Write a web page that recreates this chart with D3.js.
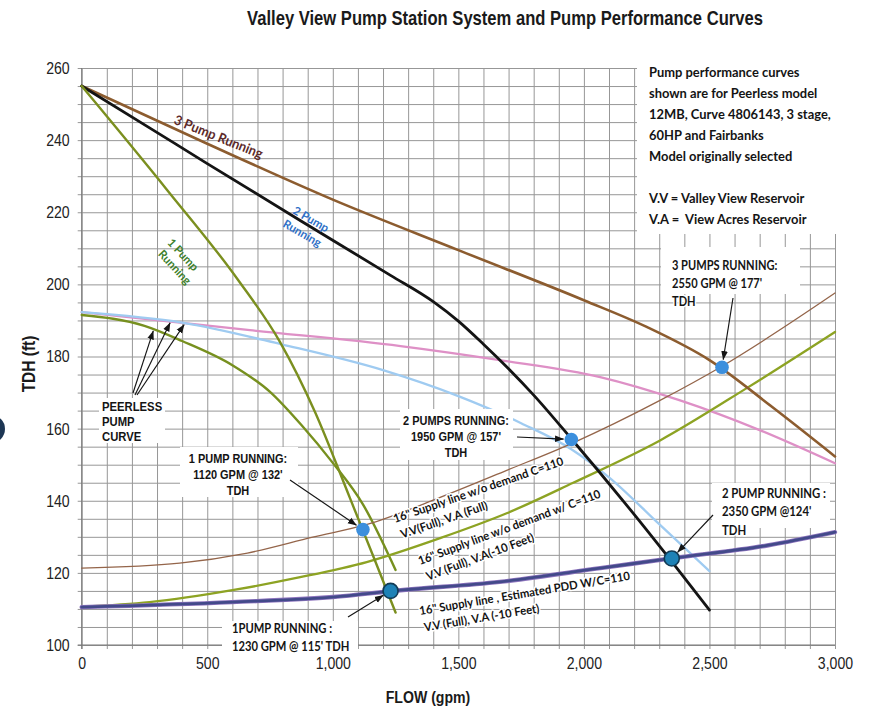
<!DOCTYPE html>
<html>
<head>
<meta charset="utf-8">
<script src="https://cdn.jsdelivr.net/npm/d3@7"></script>
<style>
  html, body { margin: 0; padding: 0; background: #fff; }
  svg { display: block; }
  .narrow { font-family: "Liberation Sans", Arial, sans-serif; }
  .cal { font-family: Lato, "Open Sans", sans-serif; font-weight: 700; }
  text { white-space: pre; }
</style>
</head>
<body>
<svg id="chart" width="869" height="707"></svg>
<script>
// ---- axis ticks -------------------------------------------------------
const flowTicks = [0, 500, 1000, 1500, 2000, 2500, 3000];
const tdhTicks = [100, 120, 140, 160, 180, 200, 220, 240, 260];

// ---- pump curves: [flow gpm, TDH ft] ----------------------------------
const threePumpRunning = [[0,255],[500,239.0],[1000,223.5],[1500,209.5],[2000,195.6],[2250,188.2],[2500,179.0],[2750,166.0],[3000,152.3]];
const twoPumpRunning = [[0,255],[275,243.2],[500,233.5],[875,217.5],[1230,202.5],[1400,195.2],[1500,189.8],[1600,183.4],[1700,176.6],[1800,169.3],[1950,157.2],[2170,138.8],[2340,124.0],[2500,109.7]];
const onePumpRunning = [[0,255],[340,226.2],[620,201.5],[790,184.0],[930,164.5],[1068,140.8],[1160,124.8],[1250,109.0]];

// ---- Peerless pump curves --------------------------------------------
const peerlessThreePump = [[0,192.3],[670,187.3],[1270,182.9],[1665,179.0],[2065,174.3],[2380,167.9],[2700,159.6],[3000,150.4]];
const peerlessTwoPump = [[0,192.3],[400,189.4],[800,183.3],[1200,176.2],[1500,169.0],[1750,161.5],[1950,154.3],[2100,146.5],[2300,133.5],[2500,120.5]];
const peerlessOnePump = [[0,191.5],[250,188.5],[400,184.3],[600,177.6],[750,170.2],[875,161.0],[1000,150.5],[1120,139.0],[1250,120.8]];

// ---- 16" supply line system curves ------------------------------------
const systemFull = [[0,121.3],[390,122.7],[660,125.5],[920,129.9],[1140,133.5],[1430,141.0],[1695,148.5],[1955,156.0],[2305,167.9],[2545,177.1],[3000,197.6]];
const systemMinus10 = [[0,110.6],[270,111.9],[600,115.2],[870,118.8],[1135,123.0],[1430,129.7],[1695,136.6],[1955,144.9],[2305,156.8],[2650,171.3],[3000,186.8]];
const systemPDD = [[0,110.5],[600,111.9],[1000,113.3],[1270,115.2],[1665,117.5],[2065,121.3],[2355,124.1],[2730,127.6],[3000,131.3]];

// ---- operating points --------------------------------------------------
const operatingFlow = [1120, 1230, 1950, 2350, 2550];
const operatingTdh = [132, 115, 157, 124, 177];
const operatingSystem = ["full", "pdd", "full", "pdd", "full"];

// ---- text ----------------------------------------------------------------
const titleText = "Valley View Pump Station System and Pump Performance Curves";
const notesText = ["Pump performance curves", "shown are for Peerless model", "12MB, Curve 4806143, 3 stage,", "60HP and Fairbanks", "Model originally selected", "", "V.V = Valley View Reservoir", "V.A =  View Acres Reservoir"];
const pointLabels = [
  ["1 PUMP RUNNING:", "1120 GPM @ 132'", "TDH"],
  ["1PUMP RUNNING :", "1230 GPM @ 115' TDH"],
  ["2 PUMPS RUNNING:", "1950 GPM @ 157'", "TDH"],
  ["2 PUMP RUNNING :", "2350 GPM @124'", "TDH"],
  ["3 PUMPS RUNNING:", "2550 GPM @ 177'", "TDH"]
];
const peerlessLabel = ["PEERLESS", "PUMP", "CURVE"];
const systemLabels = [
  ["16\" Supply line w/o demand C=110", "V.V(Full), V.A (Full)"],
  ["16\" Supply line w/o demand w/ C=110", "V.V (Full), V.A(-10 Feet)"],
  ["16\" Supply line , Estimated PDD W/C=110", "V.V (Full), V.A (-10 Feet)"]
];
const pumpLabels = [["3 Pump Running"], ["2 Pump", "Running"], ["1 Pump", "Running"]];

// ======================================================================
const W = 869, H = 707;
const NARROW = 0.83;   // horizontal squeeze for the condensed sans labels
const svg = d3.select("#chart");
const x = d3.scaleLinear().domain([0, 3000]).range([81.7, 835]);
const y = d3.scaleLinear().domain([100, 260]).range([645, 68]);
const L = x(0), R = x(3000), T = y(260), B = y(100);

svg.append("rect").attr("width", W).attr("height", H).attr("fill", "#fff");

const defs = svg.append("defs");
defs.append("marker").attr("id", "arrowHead")
  .attr("viewBox", "0 0 10 10").attr("refX", 9.5).attr("refY", 5)
  .attr("markerWidth", 9).attr("markerHeight", 9)
  .attr("markerUnits", "userSpaceOnUse").attr("orient", "auto")
  .append("path").attr("d", "M0,1.3L10,5L0,8.7Z").attr("fill", "#151515");

// slide edge ornament at the left border
svg.append("circle").attr("cx", -9).attr("cy", 429).attr("r", 14).attr("fill", "#1d3654");

// ---- grid --------------------------------------------------------------
const grid = svg.append("g");
grid.append("g").attr("transform", `translate(0,${B + 4})`)
  .call(d3.axisBottom(x).tickValues(d3.range(0, 3001, 100)).tickSize(-(B - T + 4)).tickFormat(""))
  .call(g => g.select(".domain").remove());
grid.append("g").attr("transform", `translate(${L - 4},0)`)
  .call(d3.axisLeft(y).tickValues(d3.range(100, 261, 5)).tickSize(-(R - L + 4)).tickFormat(""))
  .call(g => g.select(".domain").remove());
grid.selectAll("line").attr("stroke", "#979797").attr("stroke-width", 1);

svg.append("line").attr("x1", L).attr("x2", L).attr("y1", T).attr("y2", B + 4).attr("stroke", "#777");
svg.append("line").attr("x1", L - 4).attr("x2", R).attr("y1", B).attr("y2", B).attr("stroke", "#777");

// ---- tick labels -------------------------------------------------------
svg.append("g").attr("transform", `translate(${L},0)`)
  .call(d3.axisLeft(y).tickValues(tdhTicks).tickSize(0).tickPadding(12))
  .call(g => g.select(".domain").remove())
  .selectAll("text").attr("class", "narrow").attr("font-size", 17).attr("fill", "#222")
  .attr("x", -12 / NARROW).attr("transform", `scale(${NARROW},1)`);
svg.append("g").attr("transform", `translate(0,${B})`)
  .call(d3.axisBottom(x).tickValues(flowTicks).tickFormat(d3.format(",")).tickSize(0).tickPadding(12))
  .call(g => g.select(".domain").remove())
  .selectAll("text").attr("class", "narrow").attr("font-size", 17).attr("fill", "#222")
  .attr("transform", `scale(${NARROW},1)`);

// ---- text helper ---------------------------------------------------------
const halo = sel => sel.attr("stroke", "#fff").attr("stroke-width", 3).attr("paint-order", "stroke").attr("stroke-linejoin", "round");
function block(lines, o) {
  const tf = `translate(${o.tx},${o.ty})` + (o.rot ? ` rotate(${o.rot})` : "") + ` scale(${o.sx || 1},1)`;
  const t = svg.append("text").attr("class", o.cls).attr("transform", tf)
    .attr("font-size", o.size).attr("font-weight", o.weight || 700)
    .attr("fill", o.color || "#141414").attr("text-anchor", o.anchor || "start");
  lines.forEach((s, i) => t.append("tspan").attr("x", o.indent ? o.indent[i] : 0).attr("y", i * (o.step || 0)).text(s));
  if (o.halo) halo(t);
  return t;
}

// ---- chart title and axis titles ----------------------------------------
block([titleText], { tx: 505, ty: 25, sx: NARROW, cls: "narrow", size: 20, anchor: "middle", color: "#1a1a1a" });
block(["FLOW (gpm)"], { tx: 428, ty: 703, sx: NARROW, cls: "narrow", size: 17, anchor: "middle", color: "#1a1a1a" });
block(["TDH (ft)"], { tx: 35, ty: 364, rot: -90, sx: 0.86, cls: "narrow", size: 18, anchor: "middle", color: "#1a1a1a" });

// ---- curves --------------------------------------------------------------
const line = d3.line().x(d => x(d[0])).y(d => y(d[1])).curve(d3.curveMonotoneX);
const curves = svg.append("g").attr("fill", "none").attr("stroke-linecap", "round");
const drawCurve = (data, color, width) =>
  curves.append("path").attr("d", line(data)).attr("stroke", color).attr("stroke-width", width);

drawCurve(peerlessThreePump, "#de90c6", 2.3);
drawCurve(peerlessTwoPump, "#9fcbf1", 2.3);
drawCurve(peerlessOnePump, "#77901f", 2.4);
drawCurve(systemFull, "#94654a", 1.3);
drawCurve(systemMinus10, "#8da323", 2.3);
drawCurve(systemPDD, "#8d74bd", 4.4);
drawCurve(systemPDD, "#434a8a", 2.8);
drawCurve(threePumpRunning, "#8c5c2f", 2.6);
drawCurve(twoPumpRunning, "#141414", 2.8);
drawCurve(onePumpRunning, "#7b8f1f", 2.4);

// ---- label backgrounds ---------------------------------------------------
const boxes = [[637, 55, 232, 179], [661, 247, 139, 47], [712, 483, 118, 45], [180, 447, 118, 50], [400, 409, 113, 51], [99, 398, 66, 45], [222, 621, 136, 35]];
svg.append("g").selectAll("rect").data(boxes).join("rect")
  .attr("x", d => d[0]).attr("y", d => d[1]).attr("width", d => d[2]).attr("height", d => d[3])
  .attr("fill", "#fff");

// ---- operating point markers ------------------------------------------
const points = operatingFlow.map((f, i) => ({ f, h: operatingTdh[i], sys: operatingSystem[i] }));
const radius = p => (p.sys === "pdd" ? 7.5 : 6.8);
svg.append("g").selectAll("circle").data(points).join("circle")
  .attr("cx", p => x(p.f)).attr("cy", p => y(p.h)).attr("r", radius)
  .attr("fill", p => (p.sys === "pdd" ? "#1e82b6" : "#3c8fdd"))
  .attr("stroke", p => (p.sys === "pdd" ? "#123b55" : "none")).attr("stroke-width", 1.6);

// ---- arrows --------------------------------------------------------------
const valueAt = (series, f) => {
  const i = Math.max(1, d3.bisector(d => d[0]).left(series, f));
  const a = series[i - 1], b = series[i];
  return a[1] + (b[1] - a[1]) * (f - a[0]) / (b[0] - a[0]);
};
const arrows = svg.append("g").attr("stroke", "#151515").attr("stroke-width", 1.15);
const arrow = (x1, y1, x2, y2) => arrows.append("line")
  .attr("x1", x1).attr("y1", y1).attr("x2", x2).attr("y2", y2).attr("marker-end", "url(#arrowHead)");

const pointTails = [[290, 480], [348, 617], [517, 437], [713, 515], [733, 298]];
points.forEach((p, i) => {
  const [tx, ty] = pointTails[i];
  const cx = x(p.f), cy = y(p.h);
  const dx = cx - tx, dy = cy - ty, len = Math.hypot(dx, dy), gap = radius(p) + 1;
  arrow(tx, ty, cx - dx / len * gap, cy - dy / len * gap);
});
[[peerlessOnePump, 285, 133, 393], [peerlessTwoPump, 352, 135, 395], [peerlessThreePump, 408, 137, 395]]
  .forEach(([s, f, tx, ty]) => arrow(tx, ty, x(f), y(valueAt(s, f)) + 1.5));

// ---- annotations ---------------------------------------------------------
block(notesText, { tx: 649, ty: 76.5, step: 21.1, cls: "cal", size: 13.6, sx: 0.95 });
block(pointLabels[4], { tx: 672, ty: 269.5, step: 18.5, cls: "cal", size: 12.6, sx: 0.88, halo: true });
block(pointLabels[3], { tx: 722, ty: 498, step: 18.3, cls: "cal", size: 12.6, sx: 0.9, halo: true });
block(pointLabels[1], { tx: 232, ty: 633, step: 18.3, cls: "cal", size: 12.6, sx: 0.89 });
block(pointLabels[0], { tx: 238, ty: 462.5, step: 16.2, cls: "narrow", size: 13.2, sx: NARROW, anchor: "middle" });
block(pointLabels[2], { tx: 456, ty: 424.5, step: 16.2, cls: "narrow", size: 13.2, sx: NARROW, anchor: "middle" });
block(peerlessLabel, { tx: 102, ty: 411, step: 15.2, cls: "narrow", size: 13.6, sx: NARROW });

block(systemLabels[0], { tx: 395, ty: 523, rot: -19, step: 17, cls: "cal", size: 11.8, sx: 0.97, indent: [0, 2], halo: true });
block(systemLabels[1], { tx: 420, ty: 565, rot: -20.5, step: 17.5, cls: "cal", size: 11.8, sx: 0.96, indent: [0, 2], halo: true });
block(systemLabels[2], { tx: 420, ty: 615, rot: -9.5, step: 17, cls: "cal", size: 11.8, sx: 0.96, indent: [0, 2], halo: true });

block(pumpLabels[0], { tx: 173, ty: 123.5, rot: 22, cls: "cal", size: 13.6, sx: 0.95, color: "#5c2a2a" });
block(pumpLabels[1], { tx: 292, ty: 213, rot: 30, step: 16.5, cls: "cal", size: 11.5, color: "#2f70c6", indent: [0, -2] });
block(pumpLabels[2], { tx: 166.7, ty: 243.2, rot: 47, step: 14.5, cls: "cal", size: 11.5, color: "#3d7f2c", indent: [0, 2] });
</script>
</body>
</html>
